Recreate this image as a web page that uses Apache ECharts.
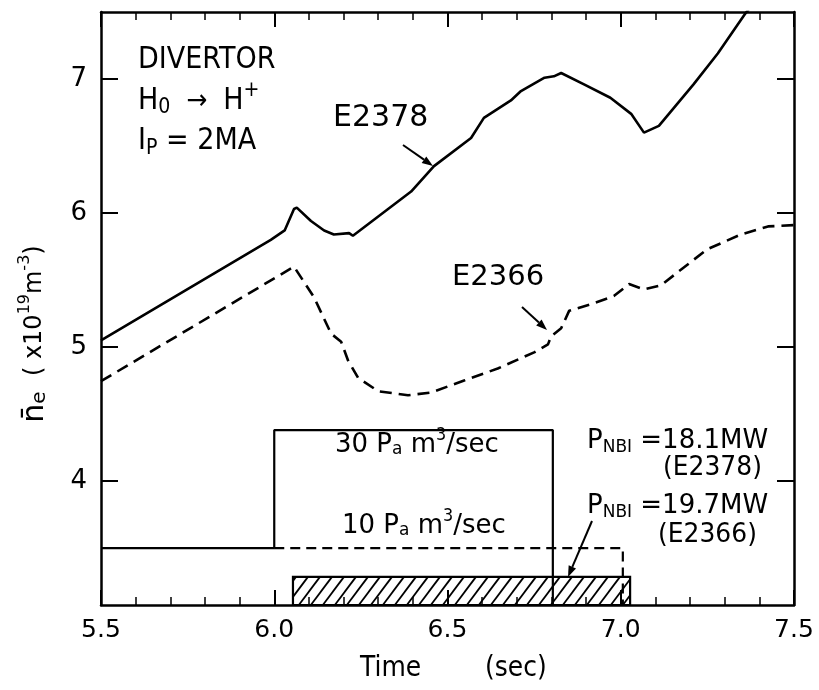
<!DOCTYPE html>
<html>
<head>
<meta charset="utf-8">
<script src="https://cdn.jsdelivr.net/npm/echarts@6/dist/echarts.min.js"></script>
<style>html,body{margin:0;padding:0;background:#fff;}#c{width:819px;height:690px;}</style>
</head>
<body>
<div id="c"></div>
<script>
// ---- data (time in s, density in 1e19 m^-3) ----
const xTicks = [5.5, 6.0, 6.5, 7.0, 7.5];
const yTicks = [4, 5, 6, 7];
const e2378 = [[5.5,5.05],[5.99,5.80],[6.03,5.87],[6.057,6.03],[6.065,6.04],[6.106,5.94],[6.144,5.87],[6.172,5.84],[6.216,5.85],[6.227,5.83],[6.395,6.16],[6.461,6.35],[6.568,6.56],[6.605,6.71],[6.683,6.84],[6.712,6.91],[6.78,7.01],[6.807,7.02],[6.828,7.045],[6.894,6.96],[6.97,6.86],[7.03,6.74],[7.067,6.60],[7.11,6.65],[7.21,6.96],[7.28,7.19],[7.36,7.49],[7.5,7.95]];
const e2366 = [[5.5,4.745],[6.057,5.60],[6.115,5.37],[6.164,5.10],[6.193,5.04],[6.213,4.90],[6.242,4.77],[6.30,4.67],[6.386,4.64],[6.452,4.66],[6.548,4.75],[6.645,4.84],[6.75,4.96],[6.79,5.02],[6.799,5.08],[6.828,5.14],[6.851,5.27],[6.914,5.32],[6.98,5.38],[7.024,5.47],[7.067,5.43],[7.116,5.46],[7.18,5.59],[7.25,5.73],[7.347,5.84],[7.425,5.90],[7.5,5.91]];
const gas30 = [[5.5,3.5],[6.0,3.5],[6.0,4.38],[6.804,4.38],[6.804,3.075]];
const gas10 = [[6.0,3.5],[7.006,3.5],[7.006,3.075]];
const nbiBox = [6.054, 7.027, 3.075, 3.285]; // tStart, tEnd, yBottom, yTop
const yMin = 3.075, yMax = 7.5, xMin = 5.5, xMax = 7.5;

const FF = '"DejaVu Sans", sans-serif';
const mctx = document.createElement('canvas').getContext('2d');
function tw(t, s){ mctx.font = s + 'px "DejaVu Sans"'; return mctx.measureText(t).width; }
// pieces: [text, fontSize, dy]
function richText(x, y, pieces, opts){
  opts = opts || {};
  let cx = 0; const kids = [];
  pieces.forEach(p => {
    kids.push({type:'text', x: cx, y: p[2] || 0, style:{text:p[0], fontSize:p[1], fontFamily:FF, fill:'#000', verticalAlign:'top'}});
    cx += tw(p[0], p[1]);
  });
  if (opts.center) kids.forEach(k => { k.x -= cx/2; });
  return {type:'group', x:x, y:y, rotation: opts.rotation || 0, scaleY: opts.sy || 1, children:kids};
}
function arrow(x0,y0,x1,y1){
  const a = Math.atan2(y1-y0, x1-x0), L = 11, W = 4;
  const bx = x1 - L*Math.cos(a), by = y1 - L*Math.sin(a);
  const px = -Math.sin(a)*W, py = Math.cos(a)*W;
  return [
    {type:'line', shape:{x1:x0,y1:y0,x2:bx,y2:by}, style:{stroke:'#000', lineWidth:2}},
    {type:'polygon', shape:{points:[[x1,y1],[bx+px,by+py],[bx-px,by-py]]}, style:{fill:'#000'}}
  ];
}

const chart = echarts.init(document.getElementById('c'), null, {renderer:'canvas'});
const axisLine = {show:true, lineStyle:{color:'#000', width:2.5}};
function xAx(pos, labels){
  return {type:'value', position:pos, min:xMin, max:xMax, interval:0.5,
    axisLine: axisLine,
    axisTick:{show:true, inside:true, length:15, lineStyle:{color:'#000', width:2}},
    minorTick:{show:true, splitNumber:5, length:8, lineStyle:{color:'#000', width:1.5}},
    axisLabel:{show:labels, margin:13, fontSize:25, fontFamily:FF, color:'#000', showMinLabel:true, showMaxLabel:true,
      customValues: xTicks, formatter: v => v.toFixed(1)},
    splitLine:{show:false}, minorSplitLine:{show:false}};
}
function yAx(pos, labels){
  return {type:'value', position:pos, min:yMin, max:yMax,
    axisLine: axisLine,
    axisTick:{show:true, inside:true, length:17, customValues: yTicks, lineStyle:{color:'#000', width:2}},
    axisLabel:{show:labels, margin:14, fontSize:26, fontFamily:FF, color:'#000', customValues: yTicks},
    splitLine:{show:false}};
}

const option = {
  animation:false,
  backgroundColor:'#fff',
  grid:{left:101, right:25, top:12, bottom:85},
  xAxis:[xAx('bottom', true), xAx('top', false)],
  yAxis:[yAx('left', true), yAx('right', false)],
  series:[
    {type:'custom', xAxisIndex:0, yAxisIndex:0, data:[nbiBox], z:1,
      renderItem:function(params, api){
        const p0 = api.coord([api.value(0), api.value(3)]);
        const p1 = api.coord([api.value(1), api.value(2)]);
        const x0=p0[0], y0=p0[1], x1=p1[0], y1=p1[1], h=y1-y0;
        const kids = [];
        const dx = h*0.75, step = 12;
        for (let xb = x0 - dx + 3; xb < x1; xb += step){
          let sx = xb, sy = y1, ex = xb + dx, ey = y0;
          if (sx < x0){ sy = y1 - (x0 - xb)*(h/dx); sx = x0; }
          if (ex > x1){ ey = y1 - (x1 - xb)*(h/dx); ex = x1; }
          if (ex - sx > 0.5) kids.push({type:'line', shape:{x1:sx,y1:sy,x2:ex,y2:ey}, style:{stroke:'#000', lineWidth:1.8}});
        }
        kids.push({type:'rect', shape:{x:x0, y:y0, width:x1-x0, height:h}, style:{fill:null, stroke:'#000', lineWidth:2.2}});
        return {type:'group', children:kids};
      }},
    {type:'line', data:gas30, showSymbol:false, lineStyle:{color:'#000', width:2.2}, z:2},
    {type:'line', data:gas10, showSymbol:false, lineStyle:{color:'#000', width:2.2, type:[10,6]}, z:2},
    {type:'line', data:e2378, showSymbol:false, clip:true, lineStyle:{color:'#000', width:2.6}, z:3},
    {type:'line', data:e2366, showSymbol:false, clip:true, lineStyle:{color:'#000', width:2.6, type:[12,7]}, z:3}
  ],
  graphic:[]
};

const g = [];
g.push(richText(138, 45, [['DIVERTOR',27]], {sy:1.12}));
g.push(richText(138, 86, [['H',27],['0',19,10],['  \u2192  ',25,2],['H',27],['+',19,-5]], {sy:1.1}));
g.push(richText(138, 126, [['I',27],['P',19,11],[' = 2MA',27]], {sy:1.1}));
g.push(richText(333, 103, [['E2378',30]]));
g.push(richText(452, 263, [['E2366',29]]));
g.push(richText(335, 431, [['30 P',26],['a',17,9],[' m',26],['3',16,-4],['/sec',26]], {sy:1.05}));
g.push(richText(342, 512, [['10 P',26],['a',17,9],[' m',26],['3',16,-4],['/sec',26]], {sy:1.05}));
g.push(richText(587, 427, [['P',26],['NBI',17,11],[' =18.1MW',26]], {sy:1.05}));
g.push(richText(663, 455, [['(E2378)',25]], {sy:1.05}));
g.push(richText(587, 492, [['P',26],['NBI',17,11],[' =19.7MW',26]], {sy:1.05}));
g.push(richText(658, 522, [['(E2366)',25]], {sy:1.05}));
g.push(richText(360, 655, [['Time',25]], {sy:1.1}));
g.push(richText(485, 655, [['(sec)',25]], {sy:1.1}));
g.push(richText(20, 334, [['n\u0304',30],['e',20,10],['  ( x10',24,3],['19',16,-3],['m',24,3],['-3',16,-3],[')',24,3]], {center:true, rotation:Math.PI/2}));
g.push(...arrow(403,145,433,166));
g.push(...arrow(522,307,547,330));
g.push(...arrow(592,521,568,577));
option.graphic = g;
chart.setOption(option);
</script>
</body>
</html>
